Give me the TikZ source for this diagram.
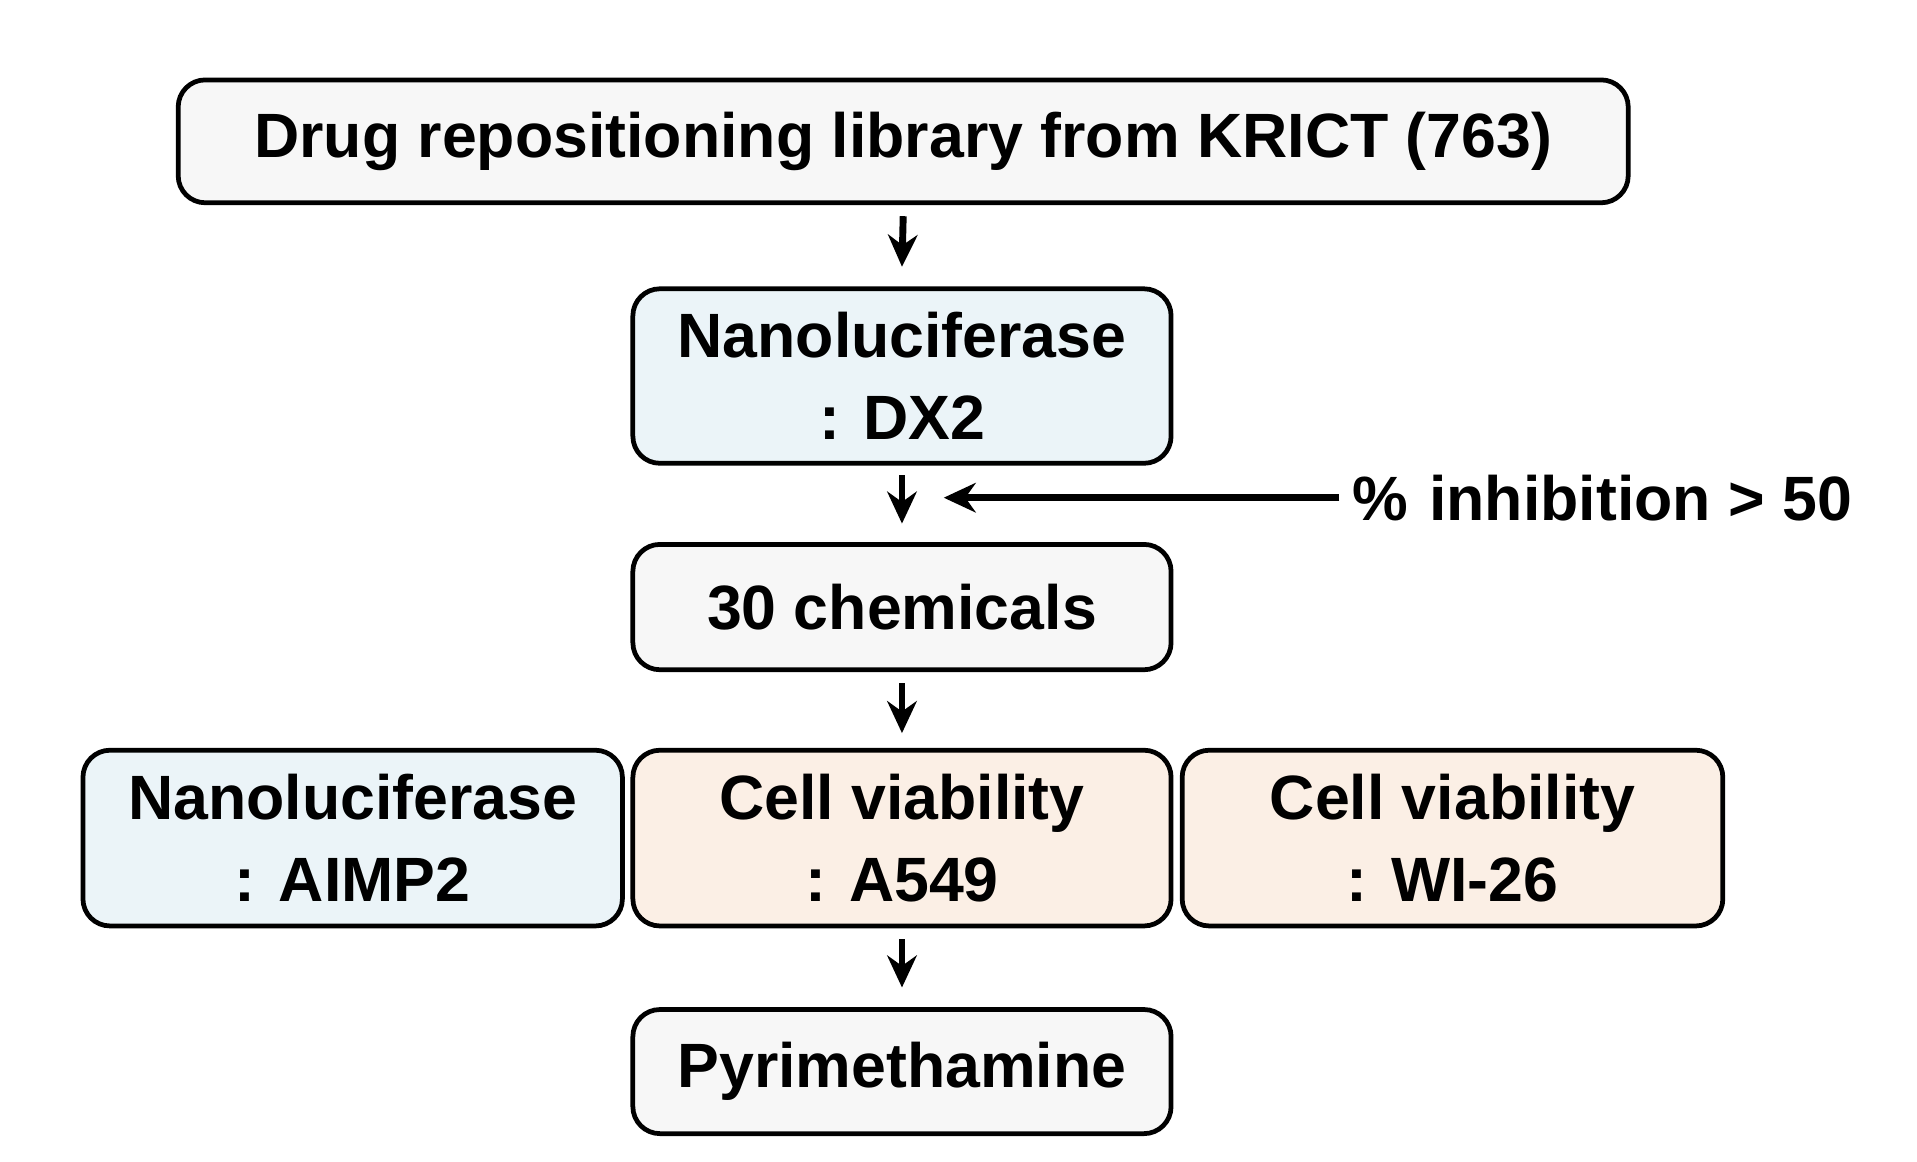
\documentclass[tikz,border=0pt]{standalone}
\usepackage{fontspec}
\setmainfont{Liberation Sans}
\usetikzlibrary{arrows.meta}
\definecolor{bl}{HTML}{EBF4F8}
\definecolor{pe}{HTML}{FBEFE5}
\definecolor{gr}{HTML}{F7F7F7}
\begin{document}
\begin{tikzpicture}[x=0.1mm,y=-0.1mm,
 box/.style={draw=black,line width=1.1pt,rounded corners=2.2mm,align=center,inner sep=0pt,
   font=\fontsize{14.5}{19}\selectfont\bfseries},
 arr/.style={-{Stealth[length=2.6mm,width=2.4mm]},line width=1.6pt}]
\useasboundingbox (0,0) rectangle (1560,945);
\node[box,fill=gr,minimum width=11.8cm,minimum height=1.0cm] (top) at (735,115) {Drug repositioning library from KRICT (763)};
\node[box,fill=bl,minimum width=4.38cm,minimum height=1.42cm] (dx2) at (734,306) {Nanoluciferase\\: DX2};
\node[box,fill=gr,minimum width=4.38cm,minimum height=1.02cm] (c30) at (734,494) {30 chemicals};
\node[box,fill=bl,minimum width=4.39cm,minimum height=1.43cm] (aimp) at (287,682) {Nanoluciferase\\: AIMP2};
\node[box,fill=pe,minimum width=4.38cm,minimum height=1.43cm] (a549) at (734,682) {Cell viability\\: A549};
\node[box,fill=pe,minimum width=4.4cm,minimum height=1.43cm] (wi) at (1182,682) {Cell viability\\: WI-26};
\node[box,fill=gr,minimum width=4.38cm,minimum height=1.01cm] (pyr) at (734,872) {Pyrimethamine};
\node[font=\fontsize{14.5}{19}\selectfont\bfseries,anchor=west,inner sep=0pt] (inh) at (1100,405) {\%\,\,inhibition > 50};
\coordinate (m) at (734,405);
\coordinate (mr) at (768,405);
\draw[arr] ([yshift=-0.9mm]top.south) -- ([yshift=1.6mm]dx2.north);
\draw[arr] ([yshift=-0.8mm]dx2.south) -- ([yshift=1.5mm]c30.north);
\draw[arr] ([yshift=-0.9mm]c30.south) -- ([yshift=1.2mm]a549.north);
\draw[arr] ([yshift=-0.9mm]a549.south) -- ([yshift=1.6mm]pyr.north);
\draw[arr] ([xshift=-1mm]inh.west) -- (mr);
\end{tikzpicture}
\end{document}
